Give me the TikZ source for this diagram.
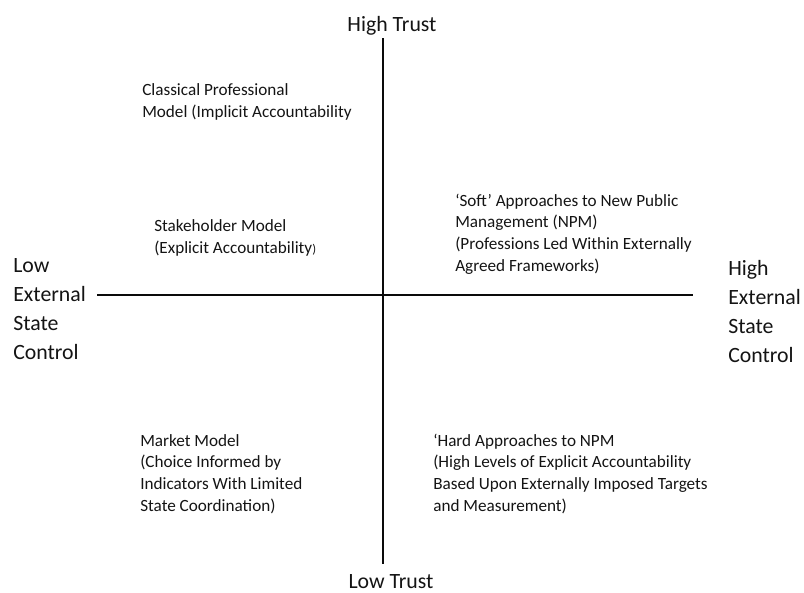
\documentclass[tikz,border=0pt]{standalone}
\usepackage{fontspec}
\setmainfont{Carlito}
\usepackage{xcolor}
\usepackage{tikz}
\usetikzlibrary{positioning, calc}
\definecolor{axisblack}{RGB}{10,10,10}
\definecolor{textgray}{RGB}{20,20,20}

\begin{document}
\begin{tikzpicture}[
  x=0.025cm, y=-0.025cm,
  axis/.style={draw=axisblack, line width=1.6pt},
  axislabel/.style={font=\fontsize{15.5}{20.6}\selectfont, color=textgray,
                    inner sep=0pt, align=left, anchor=base west},
  trustlabel/.style={font=\fontsize{15.5}{20.6}\selectfont, color=textgray,
                     inner sep=0pt, anchor=base},
  quad/.style={font=\fontsize{12.2}{15.3}\selectfont, color=textgray,
               inner sep=0pt, align=left, anchor=base west},
]
\useasboundingbox (0,0) rectangle (804,593);

% ends of the two axes
\coordinate (top)    at (383,38);
\coordinate (bottom) at (383,564);
\coordinate (left)   at (97,295);
\coordinate (right)  at (693,295);

\draw[axis] (top)  -- (bottom);
\draw[axis] (left) -- (right);

\node[trustlabel] (hightrust) at (392,31)  {High Trust};
\node[trustlabel] (lowtrust)  at (391,588) {Low Trust};

% multi-line nodes sit on the baseline of their last line
\node[axislabel] (lowctrl)  at (13,359)  {Low\\External\\State\\Control};
\node[axislabel] (highctrl) at (728,362) {High\\External\\State\\Control};

% quadrant descriptions
\node[quad] (classical)   at (142,117)
  {Classical Professional\\Model (Implicit Accountability};
\node[quad] (stakeholder) at (154,253)
  {Stakeholder Model\\(Explicit Accountability{\small)}};
\node[quad] (softnpm)     at (455,271)
  {`Soft' Approaches to New Public\\Management (NPM)\\(Professions Led Within Externally\\Agreed Frameworks)};
\node[quad] (market)      at (140,511)
  {Market Model\\(Choice Informed by\\Indicators With Limited\\State Coordination)};
\node[quad] (hardnpm)     at (433,511)
  {`Hard Approaches to NPM\\(High Levels of Explicit Accountability\\Based Upon Externally Imposed Targets\\and Measurement)};

\end{tikzpicture}
\end{document}
